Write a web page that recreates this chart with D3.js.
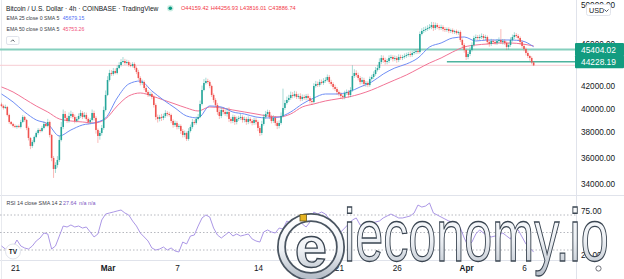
<!DOCTYPE html>
<html><head><meta charset="utf-8">
<script src="https://cdn.jsdelivr.net/npm/d3@7"></script>
<style>html,body{margin:0;padding:0;background:#fff;overflow:hidden}</style>
</head><body>
<svg id="c" width="624" height="279"></svg>
<script>
// ---------- DATA (4h candles, BTC/USD, Coinbase) ----------
const firstOpen = 40350;
const closes = [
40211,40039,40125,39441,38852,38685,38519,38437,38519,38437,
38852,39272,39019,38354,37538,36899,37217,37619,37944,38189,
38107,38354,38685,38519,38852,37781,35958,35117,35421,35803,
37377,38437,39525,39188,38935,39356,39525,39272,38935,39103,
39356,39610,39272,39441,39103,38852,39019,39610,39188,38189,
37700,37944,38354,39866,41174,42523,43169,43075,43355,43169,
43635,43916,44200,44295,44105,44200,43916,43822,44010,43635,
43262,42706,42250,42341,41798,41440,41174,41262,40997,40298,
39272,39103,39272,39188,39356,39610,39525,39441,38935,38602,
38768,38437,38519,38107,37781,37944,37457,38107,38437,38852,
38768,39103,39272,40385,41618,42250,42432,42341,41978,41174,
40733,40298,39695,39356,39866,39695,39525,39695,39103,38935,
39272,38852,39103,39188,39272,39019,39103,38852,39103,38935,
38768,39019,38852,38354,37944,38685,39272,39525,39695,39272,
38935,39188,38768,38519,38768,39356,40039,40472,40733,40909,
41174,41085,41262,40997,41085,40821,40997,40909,41085,40909,
40646,40559,41978,42159,42068,42341,42250,42432,42523,42798,
42341,42159,41888,41708,41440,41262,41085,40997,41351,41440,
41174,41618,42890,43169,42982,42706,42341,42523,42159,42250,
42068,42614,42798,43075,43448,43635,44200,44582,44390,44200,
44295,44582,44678,44486,44582,44390,44678,44582,44678,44774,
44870,44967,44870,45064,45161,45258,45161,46943,47246,47348,
47450,47551,47653,47858,47551,47858,47653,47551,47653,47450,
47348,47450,47246,47348,47145,47246,47044,47145,46342,45847,
45355,44678,44967,45355,45847,46542,46642,46542,46642,46742,
46542,46642,46144,45946,46243,46144,46045,46243,46342,46144,
46243,46045,45650,45847,46342,46642,46842,46742,46542,46144,
45748,45454,45064,44774,44582,44159.42,43886.74];
// upper / lower wick lengths (USD) above max(open,close) and below min(open,close)
const wickUp = [
150,120,200,90,110,80,100,130,90,120,
180,160,100,90,120,80,140,110,130,150,
120,180,200,150,260,120,90,150,200,300,
350,420,380,250,200,300,280,150,200,180,
220,260,150,240,200,130,160,300,200,150,
120,180,250,300,400,350,300,260,280,240,
250,260,280,380,200,220,160,230,180,150,
140,200,160,220,150,180,160,200,140,160,
140,200,180,260,200,240,160,180,120,140,
200,150,170,130,160,200,120,230,200,260,
180,200,250,300,400,350,300,200,150,120,
140,160,180,220,250,200,240,350,400,160,
200,160,200,180,260,140,200,160,220,150,
160,200,180,140,160,260,240,260,200,160,
180,240,160,150,220,300,1700,260,300,280,
300,250,280,220,200,240,220,200,180,200,
160,180,250,280,220,240,220,260,250,230,
180,200,160,200,180,150,170,140,200,220,
180,250,1000,350,250,220,180,260,200,180,
160,220,200,240,280,300,350,280,240,220,
200,260,220,180,240,200,260,220,200,240,
220,200,260,200,220,180,200,250,280,300,
260,280,300,320,300,260,200,220,240,180,
200,160,180,140,160,120,150,140,160,140,
180,150,200,300,260,220,250,200,240,260,
200,220,150,180,220,160,180,200,260,1100,
200,180,150,200,260,240,280,200,180,150,
160,140,150,180,120,150,97.51];
const wickDown = [
100,140,90,120,150,110,130,100,140,90,
120,100,150,180,200,250,150,120,100,140,
130,100,120,90,110,200,250,670,300,200,
150,120,180,200,160,140,180,150,200,120,
140,160,180,120,150,200,160,130,220,300,
560,300,200,150,120,100,140,180,160,120,
130,110,150,120,180,140,160,120,140,180,
200,160,220,180,200,150,180,160,200,220,
260,300,200,250,180,160,200,140,180,220,
160,200,180,240,200,180,160,140,120,150,
160,140,120,100,130,110,140,160,200,180,
220,200,240,260,180,200,160,220,260,200,
180,240,200,160,180,220,200,240,180,200,
200,160,220,260,250,180,140,160,120,180,
200,160,220,260,200,140,120,160,140,180,
160,200,140,180,160,200,180,160,200,180,
220,260,120,140,180,160,140,180,160,140,
180,200,220,180,240,200,260,220,200,160,
240,200,160,180,200,220,240,200,220,260,
200,160,140,180,160,140,180,200,260,240,
220,200,160,240,200,260,200,180,200,160,
180,160,200,180,160,200,180,160,140,200,
180,200,160,220,300,200,180,220,200,240,
200,180,220,200,180,200,160,180,200,220,
260,290,220,200,160,180,200,220,180,200,
220,200,240,260,200,220,180,200,220,200,
240,200,300,260,180,160,200,180,220,240,
200,220,240,200,260,180,70.73];
// EMA values, one reading every 6 candles (daily)
const ema25 = [41262,40559,39695,39019,38685,37700,38189,38602,38768,39188,40909,42159,42432,41529,40733,40039,39356,39188,40211,40125,39695,39525,39272,39188,39272,39695,40385,40909,41262,41262,41440,41888,42341,43075,43635,44010,44582,45650,46045,46542,46642,46243,46342,46342,46342,46243,45679.15];
const ema50 = [41888,41440,40821,40211,39695,39103,38935,38852,38768,39103,40211,41085,41351,41085,40733,40385,40039,39780,40125,40039,39866,39695,39525,39356,39272,39525,40125,40385,40646,40821,40997,41262,41618,42068,42523,42982,43541,44105,44582,45161,45650,45847,45946,46045,46045,45946,45753.26];
// RSI 14, one reading every 2 candles
const rsi = [
34.6,31.1,31.1,33.4,41.4,34.6,32.3,31.1,34.6,40.3,
43.7,49.4,48.3,31.1,34.6,46.0,57.4,56.3,58.6,56.3,
57.4,55.1,56.3,50.6,44.9,48.3,64.3,71.1,72.3,73.4,
74.6,75.7,72.3,70.0,63.1,57.4,49.4,44.9,40.3,32.3,
30.0,31.1,33.4,30.0,32.3,28.9,27.7,39.1,36.9,46.0,
47.1,57.4,66.6,70.0,67.7,55.1,47.1,43.7,47.1,50.6,
46.0,48.3,46.0,47.1,48.3,42.6,40.3,39.1,50.6,52.9,
50.6,49.4,55.1,54.0,63.1,60.9,65.4,65.4,59.7,56.3,
62.0,73.4,71.1,73.4,71.1,65.4,56.3,51.7,50.6,55.1,
59.7,64.3,66.6,58.6,56.3,59.7,60.9,62.0,63.1,66.6,
68.9,71.1,68.9,66.6,66.6,67.7,68.9,72.3,81.4,79.1,
80.3,83.7,72.3,70.0,67.7,65.4,63.1,62.0,60.9,55.1,
43.7,34.6,39.1,48.3,52.9,49.4,46.0,44.9,46.0,47.1,
49.4,46.0,42.6,54.0,52.9,44.9,36.9,32.3,27.64];
const priceTicks = [50000, 46000, 44000, 42000, 40000, 38000, 36000, 34000];
const rsiTicks = [75, 25];
const rsiLevels = [70, 50, 30];
const timeTickDates = ["2022-02-21","2022-03-01","2022-03-07","2022-03-14","2022-03-21","2022-03-26","2022-04-01","2022-04-06"];
const timeTickLabels = ["21","Mar","7","14","21","26","Apr","6"];
const levelLines = [45404.02, 44228.19];
const levelStartDate = "2022-03-30T08:00Z";
const lastPrice = 43886.74;
const title = "Bitcoin / U.S. Dollar · 4h · COINBASE · TradingView";
const ohlcLabels = ["O44159.42","H44256.93","L43816.01","C43886.74"];
const emaLegend = [["EMA 25 close 0 SMA 5","45679.15"],["EMA 50 close 0 SMA 5","45753.26"]];
const rsiLegend = ["RSI 14 close SMA 14 2","27.64","n/a n/a"];

// ---------- LAYOUT ----------
const svg = d3.select("#c");
const FONT = "'Liberation Sans', Arial, sans-serif";
const plotR = 576, paneSep = 195, rsiBottom = 260;
const UP = "#26a69a", DOWN = "#ef5350";
const H4 = 4*3600*1000;
const t0 = Date.UTC(2022,1,19,20);
const x = d3.scaleUtc().domain([new Date(Date.UTC(2022,1,21)), new Date(Date.UTC(2022,3,6))]).range([15,524]);
const y = d3.scaleLog().domain([34000,50000]).range([184, 184-465*Math.log(50000/34000)]);
const yR = d3.scaleLinear().domain([70,30]).range([215,250]);

svg.append("rect").attr("width",624).attr("height",279).attr("fill","#fff");
const defs = svg.append("defs");
defs.append("clipPath").attr("id","cp").append("rect").attr("x",0).attr("y",0).attr("width",plotR).attr("height",paneSep);
defs.append("clipPath").attr("id","cr").append("rect").attr("x",0).attr("y",paneSep).attr("width",plotR).attr("height",rsiBottom-paneSep);

// separators
svg.append("line").attr("x1",plotR+0.5).attr("x2",plotR+0.5).attr("y1",0).attr("y2",279).attr("stroke","#e0e3eb");
svg.append("line").attr("x1",0).attr("x2",624).attr("y1",paneSep+0.5).attr("y2",paneSep+0.5).attr("stroke","#e0e3eb");
svg.append("line").attr("x1",0).attr("x2",plotR).attr("y1",rsiBottom+0.5).attr("y2",rsiBottom+0.5).attr("stroke","#e0e3eb");
svg.append("line").attr("x1",1.5).attr("x2",1.5).attr("y1",0).attr("y2",279).attr("stroke","#e8eaef");

const pp = svg.append("g").attr("clip-path","url(#cp)");
// current price line
pp.append("line").attr("x1",0).attr("x2",plotR).attr("y1",y(lastPrice)).attr("y2",y(lastPrice)).attr("stroke","#f7ccd2").attr("stroke-width",1);
// support/resistance lines
pp.append("line").attr("x1",0).attr("x2",plotR).attr("y1",y(levelLines[0])).attr("y2",y(levelLines[0])).attr("stroke","#86cfbe").attr("stroke-width",2);
pp.append("line").attr("x1",x(new Date(levelStartDate))).attr("x2",plotR).attr("y1",y(levelLines[1])).attr("y2",y(levelLines[1])).attr("stroke","#4fb39e").attr("stroke-width",1.6);

// EMAs
const emaT = i => new Date(t0 + i*6*H4);
const lineE = d3.line().x((d,i)=>x(emaT(i))).y(d=>y(d)).curve(d3.curveMonotoneX);
pp.append("path").attr("d",lineE(ema50)).attr("fill","none").attr("stroke","#f27395").attr("stroke-width",1);
pp.append("path").attr("d",lineE(ema25)).attr("fill","none").attr("stroke","#6f8ef5").attr("stroke-width",1);

// candles
const candles = closes.map((c,i)=>{
  const o = i===0 ? firstOpen : closes[i-1];
  return {t:new Date(t0+i*H4), o, c, h:Math.max(o,c)+wickUp[i], l:Math.min(o,c)-wickDown[i]};
});
pp.selectAll(".wick").data(candles).join("line")
  .attr("x1",d=>x(d.t)).attr("x2",d=>x(d.t)).attr("y1",d=>y(d.h)).attr("y2",d=>y(d.l))
  .attr("stroke",d=>d.c>=d.o?UP:DOWN).attr("stroke-opacity",0.45).attr("stroke-width",0.9);
pp.selectAll(".body").data(candles).join("rect")
  .attr("x",d=>x(d.t)-0.8).attr("width",1.6)
  .attr("y",d=>y(Math.max(d.o,d.c))).attr("height",d=>Math.max(0.8,Math.abs(y(d.o)-y(d.c))))
  .attr("fill",d=>d.c>=d.o?UP:DOWN);

// price axis
const pa = svg.append("g").attr("transform",`translate(${plotR},0)`)
  .call(d3.axisRight(y).tickValues(priceTicks).tickFormat(d3.format(".2f")).tickSize(0).tickPadding(5));
pa.select(".domain").remove();
pa.selectAll("text").attr("font-family",FONT).attr("font-size",8.2).attr("fill","#131722");

// level labels
levelLines.forEach(v=>{
  const g = svg.append("g");
  g.append("rect").attr("x",plotR-1).attr("y",y(v)-6.5).attr("width",624-plotR+1).attr("height",13).attr("fill","#139c80").attr("rx",1);
  g.append("text").attr("x",581).attr("y",y(v)).attr("dy","0.36em").attr("font-family",FONT).attr("font-size",8.4).attr("fill","#fff").text(d3.format(".2f")(v));
});
// USD box
svg.append("rect").attr("x",586.5).attr("y",4.5).attr("width",24).attr("height",11).attr("rx",2).attr("fill","#fff").attr("stroke","#e0e3eb");
svg.append("text").attr("x",589).attr("y",10).attr("dy","0.35em").attr("font-family",FONT).attr("font-size",7.2).attr("fill","#131722").text("USD");
svg.append("path").attr("d","M604.5,9.5 L606.5,11.5 L608.5,9.5").attr("fill","none").attr("stroke","#131722").attr("stroke-width",0.7);

// RSI pane
const rp = svg.append("g").attr("clip-path","url(#cr)");
rsiLevels.forEach(v=>{
  rp.append("line").attr("x1",0).attr("x2",plotR).attr("y1",yR(v)).attr("y2",yR(v))
    .attr("stroke","#a3a6af").attr("stroke-width",0.8).attr("stroke-dasharray","1.5,2");
});
const lineR = d3.line().x((d,i)=>x(new Date(t0+i*2*H4))).y(d=>yR(d));
rp.append("path").attr("d",lineR(rsi)).attr("fill","none").attr("stroke","#a18be2").attr("stroke-width",0.9);
const ra = svg.append("g").attr("transform",`translate(${plotR},0)`)
  .call(d3.axisRight(yR).tickValues(rsiTicks).tickFormat(d3.format(".2f")).tickSize(0).tickPadding(5));
ra.select(".domain").remove();
ra.selectAll("text").attr("font-family",FONT).attr("font-size",8.2).attr("fill","#131722");

// time axis
const ta = svg.append("g").attr("transform",`translate(0,${rsiBottom})`)
  .call(d3.axisBottom(x).tickValues(timeTickDates.map(s=>new Date(s+"T00:00Z"))).tickFormat((d,i)=>timeTickLabels[i]).tickSize(0).tickPadding(5.5));
ta.select(".domain").remove();
ta.selectAll("text").attr("font-family",FONT).attr("font-size",8.2).attr("fill","#131722")
  .attr("font-weight",(d,i)=>/[A-Za-z]/.test(timeTickLabels[i])?"bold":"normal");
// settings icon
svg.append("circle").attr("cx",598.5).attr("cy",268.5).attr("r",2.6).attr("fill","none").attr("stroke","#50535e").attr("stroke-width",0.8);

// header legend
svg.append("text").attr("x",6).attr("y",8.3).attr("dy","0.35em").attr("font-family",FONT).attr("font-size",6.6).attr("fill","#131722").text(title);
svg.append("circle").attr("cx",170.3).attr("cy",8.3).attr("r",3.2).attr("fill","#cdeee4");
svg.append("circle").attr("cx",170.3).attr("cy",8.3).attr("r",1.8).attr("fill","#089981");
[181,210.7,240,268.3].forEach((px,i)=>{
  svg.append("text").attr("x",px).attr("y",8.3).attr("dy","0.35em").attr("font-family",FONT).attr("font-size",5.6).attr("fill","#f23645").text(ohlcLabels[i]);
});
emaLegend.forEach((e,i)=>{
  const cy = 18.3 + i*11;
  svg.append("text").attr("x",6.5).attr("y",cy).attr("dy","0.35em").attr("font-family",FONT).attr("font-size",5.2).attr("fill","#3b3e48").text(e[0]);
  svg.append("text").attr("x",62.7).attr("y",cy).attr("dy","0.35em").attr("font-family",FONT).attr("font-size",5.2).attr("fill",i===0?"#4f6df5":"#ef4f7a").text(e[1]);
});
svg.append("rect").attr("x",6.5).attr("y",36.5).attr("width",12.5).attr("height",8).attr("rx",1.5).attr("fill","#fff").attr("stroke","#e0e3eb");
svg.append("path").attr("d","M11,41.6 L12.75,39.8 L14.5,41.6").attr("fill","none").attr("stroke","#131722").attr("stroke-width",0.7);
// RSI legend
svg.append("text").attr("x",6.5).attr("y",203.3).attr("dy","0.35em").attr("font-family",FONT).attr("font-size",5.4).attr("fill","#3b3e48").text(rsiLegend[0]);
svg.append("text").attr("x",63).attr("y",203.3).attr("dy","0.35em").attr("font-family",FONT).attr("font-size",5.4).attr("fill","#7e57c2").text(rsiLegend[1]);
svg.append("text").attr("x",79).attr("y",203.3).attr("dy","0.35em").attr("font-family",FONT).attr("font-size",5.4).attr("fill","#7e57c2").text(rsiLegend[2]);
// TradingView logo
svg.append("circle").attr("cx",13).attr("cy",251.5).attr("r",7.5).attr("fill","#fff").attr("stroke","#e0e3eb");
svg.append("text").attr("x",13).attr("y",251.8).attr("dy","0.35em").attr("text-anchor","middle").attr("font-family",FONT).attr("font-weight","bold").attr("font-size",6.5).attr("fill","#131722").text("TV");

// watermark
const gr = defs.append("linearGradient").attr("id","wm").attr("x1",0).attr("y1",0).attr("x2",0).attr("y2",1);
gr.append("stop").attr("offset","0%").attr("stop-color","#ffffff");
gr.append("stop").attr("offset","55%").attr("stop-color","#eef1f5");
gr.append("stop").attr("offset","100%").attr("stop-color","#b7bfc9");
const wm = svg.append("g");
wm.append("circle").attr("cx",311).attr("cy",247).attr("r",29.5).attr("fill","none").attr("stroke","#4a5561").attr("stroke-width",9);
wm.append("circle").attr("cx",311).attr("cy",247).attr("r",29.5).attr("fill","none").attr("stroke","url(#wm)").attr("stroke-width",5.5);
wm.append("text").attr("x",311).attr("y",267).attr("text-anchor","middle").attr("font-family",FONT).attr("font-weight","bold").attr("font-size",58)
  .attr("fill","url(#wm)").attr("stroke","#3b4652").attr("stroke-width",1.3).text("e");
wm.append("rect").attr("x",300).attr("y",214.5).attr("width",6.5).attr("height",6.5).attr("fill","#e6b422").attr("stroke","#6b5a1e").attr("stroke-width",0.8);
wm.append("text").attr("transform","translate(344,261) scale(0.68,1)").attr("font-family",FONT).attr("font-size",74)
  .attr("fill","url(#wm)").attr("stroke","#3b4652").attr("stroke-width",1.3).text("ieconomy.io");
</script>
</body></html>
